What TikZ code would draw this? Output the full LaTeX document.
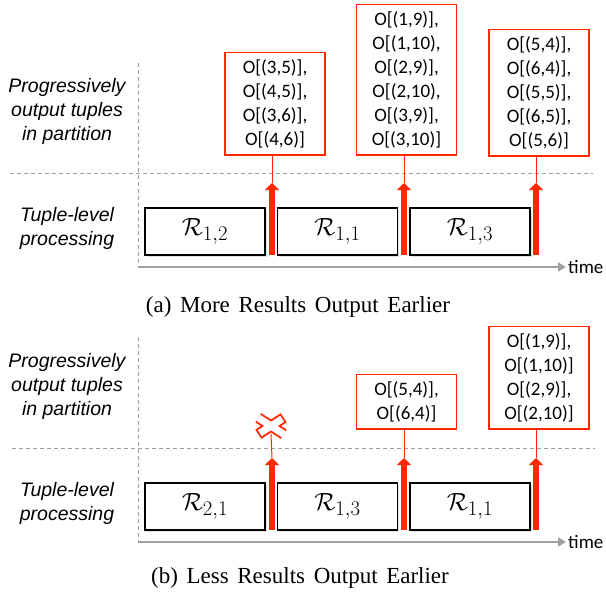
\documentclass[tikz,border=0pt]{standalone}
\usepackage{fontspec}
\usepackage{amsmath}
\usetikzlibrary{positioning,arrows.meta,shadows}
\newfontfamily\boxfont{Carlito}
\newfontfamily\sidefont{Liberation Sans}
\newfontfamily\capfont[WordSpace=1.5]{Liberation Serif}
\definecolor{outred}{RGB}{255,40,0}
\definecolor{axisgray}{RGB}{160,160,160}

\begin{document}
\begin{tikzpicture}[x=1pt,y=-1pt,
    sidelabel/.style={font=\sidefont\itshape\fontsize{19.5}{24}\selectfont,align=center},
    partbox/.style={draw,fill=white,line width=1.8pt,minimum width=120pt,minimum height=47pt,inner sep=0pt,
        font=\fontsize{29}{30}\selectfont,drop shadow={opacity=.25,shadow xshift=1.5pt,shadow yshift=-1.5pt}},
    outbox/.style={draw=outred,line width=1.6pt,minimum width=100pt,inner xsep=0pt,inner ysep=7pt,
        align=center,anchor=south,font=\boxfont\fontsize{19}{24}\selectfont},
    sepline/.style={axisgray,dash pattern=on 4pt off 3pt,line width=1pt},
    timeaxis/.style={axisgray,line width=2.2pt,-{Triangle[width=9pt,length=8pt]}},
    timelabel/.style={font=\boxfont\fontsize{19}{22}\selectfont,inner sep=0pt},
    uparrow/.style={outred,line width=6pt,-{Triangle[width=14pt,length=7pt]}},
    tipline/.style={outred,line width=1pt},
    caption/.style={font=\capfont\fontsize{23}{25}\selectfont}]
    \useasboundingbox (0,0) rectangle (606,595);

    % (a) more results output earlier
    \draw[sepline] (138,63) -- (138,267);
    \draw[sepline] (10,173) -- (593,173);
    \coordinate (a-origin) at (138,267);
    \coordinate (a-end) at (566,267);
    \draw[timeaxis] (a-origin) -- (a-end);
    \node[timelabel, right=2pt of a-end] (a-time) {time};
    \node[sidelabel] (a-prog) at (67,111) {Progressively\\output tuples\\in partition};
    \node[sidelabel] (a-tuple) at (67,228) {Tuple-level\\processing};
    \foreach \i/\sub/\cx in {1/{1,2}/205,2/{1,1}/337.5,3/{1,3}/470}
        \node[partbox] (a-r\i) at (\cx,231.5) {$\mathcal{R}_{\sub}$};
    \foreach \i/\ax in {1/272,2/404,3/536} {
        \coordinate (a-base\i) at (\ax,255);
        \coordinate (a-tip\i) at (\ax,183);
        \draw[uparrow] (a-base\i) -- (a-tip\i);
    }
    \node[outbox] (a-o1) at (275,156) {O[(3,5)],\\O[(4,5)],\\O[(3,6)],\\O[(4,6)]};
    \node[outbox] (a-o2) at (406.5,156) {O[(1,9)],\\O[(1,10),\\O[(2,9)],\\O[(2,10),\\O[(3,9)],\\O[(3,10)]};
    \node[outbox] (a-o3) at (539,157) {O[(5,4)],\\O[(6,4)],\\O[(5,5)],\\O[(6,5)],\\O[(5,6)]};
    \foreach \i in {1,2,3}
        \draw[tipline] (a-tip\i) -- (a-tip\i |- a-o\i.south);
    \node[caption] (a-cap) at (298,307) {(a) More Results Output Earlier};

    % (b) less results output earlier
    \begin{scope}[yshift=-275pt]
        \draw[sepline] (138,62) -- (138,267);
        \draw[sepline] (12,173) -- (595,173);
        \coordinate (b-origin) at (138,267);
        \coordinate (b-end) at (566,267);
        \draw[timeaxis] (b-origin) -- (b-end);
        \node[timelabel, right=2pt of b-end] (b-time) {time};
        \node[sidelabel] (b-prog) at (67,111) {Progressively\\output tuples\\in partition};
        \node[sidelabel] (b-tuple) at (67,228) {Tuple-level\\processing};
        \foreach \i/\sub/\cx in {1/{2,1}/205,2/{1,3}/337.5,3/{1,1}/470}
            \node[partbox] (b-r\i) at (\cx,231.5) {$\mathcal{R}_{\sub}$};
        \foreach \i/\ax in {1/272,2/404,3/536} {
            \coordinate (b-base\i) at (\ax,255);
            \coordinate (b-tip\i) at (\ax,183);
            \draw[uparrow] (b-base\i) -- (b-tip\i);
        }
        % no output after the first partition
        \node[minimum width=25pt,minimum height=16pt,inner sep=0pt] (b-cross) at (271,151) {};
        \draw[outred,line width=11pt] (b-cross.north west) -- (b-cross.south east)
            (b-cross.south west) -- (b-cross.north east);
        \draw[white,line width=7.2pt,shorten >=1.8pt,shorten <=1.8pt] (b-cross.north west) -- (b-cross.south east)
            (b-cross.south west) -- (b-cross.north east);
        \node[outbox] (b-o2) at (406.5,155) {O[(5,4)],\\O[(6,4)]};
        \node[outbox] (b-o3) at (539,155) {O[(1,9)],\\O[(1,10)]\\O[(2,9)],\\O[(2,10)]};
        \draw[tipline] (b-tip1) -- (b-cross.south);
        \foreach \i in {2,3}
            \draw[tipline] (b-tip\i) -- (b-tip\i |- b-o\i.south);
    \end{scope}
    \node[caption] (b-cap) at (300,578) {(b) Less Results Output Earlier};
\end{tikzpicture}
\end{document}
